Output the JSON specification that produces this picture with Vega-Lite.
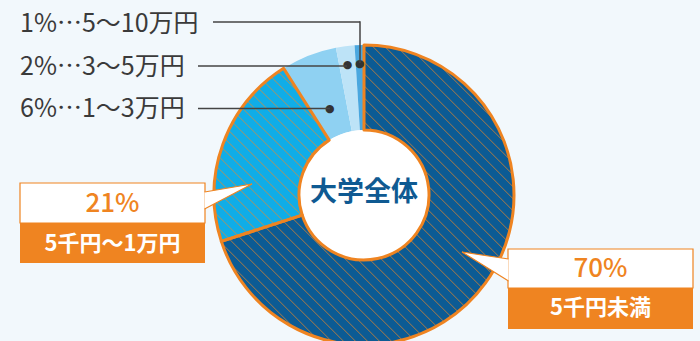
{
"$schema":"https://vega.github.io/schema/vega-lite/v6.json",
"width":700,"height":341,"autosize":{"type":"none"},"padding":0,
"background":"#f2f8fc",
"config":{"view":{"stroke":null},"text":{"font":"Noto Sans CJK JP"}},
"data":{"values":[
{"cat":"5千円未満","pct":70,"ord":1,"pctText":"70%","label":"5千円未満"},
{"cat":"5千円〜1万円","pct":21,"ord":2,"pctText":"21%","label":"5千円〜1万円"},
{"cat":"1〜3万円","pct":6,"ord":3,"pctText":"6%","label":"6%…1〜3万円"},
{"cat":"3〜5万円","pct":2,"ord":4,"pctText":"2%","label":"2%…3〜5万円"},
{"cat":"5〜10万円","pct":1,"ord":5,"pctText":"1%","label":"1%…5〜10万円"}
]},
"layer":[
{"mark":{"type":"arc","outerRadius":150,"innerRadius":65},
 "encoding":{
  "x":{"datum":364,"type":"quantitative","scale":{"domain":[0,700],"nice":false,"zero":false},"axis":null},
  "y":{"datum":195,"type":"quantitative","scale":{"domain":[0,341],"reverse":true,"nice":false,"zero":false},"axis":null},
  "theta":{"field":"pct","type":"quantitative","stack":true},
  "order":{"field":"ord","type":"quantitative"},
  "color":{"field":"cat","type":"nominal","legend":null,
   "scale":{"domain":["5千円未満","5千円〜1万円","1〜3万円","3〜5万円","5〜10万円"],
            "range":["#0c5b94","#10ade8","#8fd1f2","#bde3f7","#4aa7df"]}}}},
{"transform":[{"filter":"datum.pct >= 21"},{"aggregate":[{"op":"sum","field":"pct","as":"big"}]}],
 "mark":{"type":"arc","outerRadius":150,"innerRadius":65,
  "fill":{"gradient":"linear","x1":0,"y1":1,"x2":1,"y2":0,"stops":[
{"offset":0,"color":"#f0872300"},{"offset":0.002,"color":"#f0872399"},{"offset":0.004,"color":"#f0872300"},
{"offset":0.02,"color":"#f0872300"},{"offset":0.022,"color":"#f0872399"},{"offset":0.024,"color":"#f0872300"},
{"offset":0.04,"color":"#f0872300"},{"offset":0.042,"color":"#f0872399"},{"offset":0.044,"color":"#f0872300"},
{"offset":0.06,"color":"#f0872300"},{"offset":0.062,"color":"#f0872399"},{"offset":0.064,"color":"#f0872300"},
{"offset":0.08,"color":"#f0872300"},{"offset":0.082,"color":"#f0872399"},{"offset":0.084,"color":"#f0872300"},
{"offset":0.10,"color":"#f0872300"},{"offset":0.102,"color":"#f0872399"},{"offset":0.104,"color":"#f0872300"},
{"offset":0.12,"color":"#f0872300"},{"offset":0.122,"color":"#f0872399"},{"offset":0.124,"color":"#f0872300"},
{"offset":0.14,"color":"#f0872300"},{"offset":0.142,"color":"#f0872399"},{"offset":0.144,"color":"#f0872300"},
{"offset":0.16,"color":"#f0872300"},{"offset":0.162,"color":"#f0872399"},{"offset":0.164,"color":"#f0872300"},
{"offset":0.18,"color":"#f0872300"},{"offset":0.182,"color":"#f0872399"},{"offset":0.184,"color":"#f0872300"},
{"offset":0.20,"color":"#f0872300"},{"offset":0.202,"color":"#f0872399"},{"offset":0.204,"color":"#f0872300"},
{"offset":0.22,"color":"#f0872300"},{"offset":0.222,"color":"#f0872399"},{"offset":0.224,"color":"#f0872300"},
{"offset":0.24,"color":"#f0872300"},{"offset":0.242,"color":"#f0872399"},{"offset":0.244,"color":"#f0872300"},
{"offset":0.26,"color":"#f0872300"},{"offset":0.262,"color":"#f0872399"},{"offset":0.264,"color":"#f0872300"},
{"offset":0.28,"color":"#f0872300"},{"offset":0.282,"color":"#f0872399"},{"offset":0.284,"color":"#f0872300"},
{"offset":0.30,"color":"#f0872300"},{"offset":0.302,"color":"#f0872399"},{"offset":0.304,"color":"#f0872300"},
{"offset":0.32,"color":"#f0872300"},{"offset":0.322,"color":"#f0872399"},{"offset":0.324,"color":"#f0872300"},
{"offset":0.34,"color":"#f0872300"},{"offset":0.342,"color":"#f0872399"},{"offset":0.344,"color":"#f0872300"},
{"offset":0.36,"color":"#f0872300"},{"offset":0.362,"color":"#f0872399"},{"offset":0.364,"color":"#f0872300"},
{"offset":0.38,"color":"#f0872300"},{"offset":0.382,"color":"#f0872399"},{"offset":0.384,"color":"#f0872300"},
{"offset":0.40,"color":"#f0872300"},{"offset":0.402,"color":"#f0872399"},{"offset":0.404,"color":"#f0872300"},
{"offset":0.42,"color":"#f0872300"},{"offset":0.422,"color":"#f0872399"},{"offset":0.424,"color":"#f0872300"},
{"offset":0.44,"color":"#f0872300"},{"offset":0.442,"color":"#f0872399"},{"offset":0.444,"color":"#f0872300"},
{"offset":0.46,"color":"#f0872300"},{"offset":0.462,"color":"#f0872399"},{"offset":0.464,"color":"#f0872300"},
{"offset":0.48,"color":"#f0872300"},{"offset":0.482,"color":"#f0872399"},{"offset":0.484,"color":"#f0872300"},
{"offset":0.50,"color":"#f0872300"},{"offset":0.502,"color":"#f0872399"},{"offset":0.504,"color":"#f0872300"},
{"offset":0.52,"color":"#f0872300"},{"offset":0.522,"color":"#f0872399"},{"offset":0.524,"color":"#f0872300"},
{"offset":0.54,"color":"#f0872300"},{"offset":0.542,"color":"#f0872399"},{"offset":0.544,"color":"#f0872300"},
{"offset":0.56,"color":"#f0872300"},{"offset":0.562,"color":"#f0872399"},{"offset":0.564,"color":"#f0872300"},
{"offset":0.58,"color":"#f0872300"},{"offset":0.582,"color":"#f0872399"},{"offset":0.584,"color":"#f0872300"},
{"offset":0.60,"color":"#f0872300"},{"offset":0.602,"color":"#f0872399"},{"offset":0.604,"color":"#f0872300"},
{"offset":0.62,"color":"#f0872300"},{"offset":0.622,"color":"#f0872399"},{"offset":0.624,"color":"#f0872300"},
{"offset":0.64,"color":"#f0872300"},{"offset":0.642,"color":"#f0872399"},{"offset":0.644,"color":"#f0872300"},
{"offset":0.66,"color":"#f0872300"},{"offset":0.662,"color":"#f0872399"},{"offset":0.664,"color":"#f0872300"},
{"offset":0.68,"color":"#f0872300"},{"offset":0.682,"color":"#f0872399"},{"offset":0.684,"color":"#f0872300"},
{"offset":0.70,"color":"#f0872300"},{"offset":0.702,"color":"#f0872399"},{"offset":0.704,"color":"#f0872300"},
{"offset":0.72,"color":"#f0872300"},{"offset":0.722,"color":"#f0872399"},{"offset":0.724,"color":"#f0872300"},
{"offset":0.74,"color":"#f0872300"},{"offset":0.742,"color":"#f0872399"},{"offset":0.744,"color":"#f0872300"},
{"offset":0.76,"color":"#f0872300"},{"offset":0.762,"color":"#f0872399"},{"offset":0.764,"color":"#f0872300"},
{"offset":0.78,"color":"#f0872300"},{"offset":0.782,"color":"#f0872399"},{"offset":0.784,"color":"#f0872300"},
{"offset":0.80,"color":"#f0872300"},{"offset":0.802,"color":"#f0872399"},{"offset":0.804,"color":"#f0872300"},
{"offset":0.82,"color":"#f0872300"},{"offset":0.822,"color":"#f0872399"},{"offset":0.824,"color":"#f0872300"},
{"offset":0.84,"color":"#f0872300"},{"offset":0.842,"color":"#f0872399"},{"offset":0.844,"color":"#f0872300"},
{"offset":0.86,"color":"#f0872300"},{"offset":0.862,"color":"#f0872399"},{"offset":0.864,"color":"#f0872300"},
{"offset":0.88,"color":"#f0872300"},{"offset":0.882,"color":"#f0872399"},{"offset":0.884,"color":"#f0872300"},
{"offset":0.90,"color":"#f0872300"},{"offset":0.902,"color":"#f0872399"},{"offset":0.904,"color":"#f0872300"},
{"offset":0.92,"color":"#f0872300"},{"offset":0.922,"color":"#f0872399"},{"offset":0.924,"color":"#f0872300"},
{"offset":0.94,"color":"#f0872300"},{"offset":0.942,"color":"#f0872399"},{"offset":0.944,"color":"#f0872300"},
{"offset":0.96,"color":"#f0872300"},{"offset":0.962,"color":"#f0872399"},{"offset":0.964,"color":"#f0872300"},
{"offset":0.98,"color":"#f0872300"},{"offset":0.982,"color":"#f0872399"},{"offset":0.984,"color":"#f0872300"},
{"offset":1,"color":"#f0872300"}]}},
 "encoding":{
  "x":{"datum":364,"type":"quantitative","scale":{"domain":[0,700],"nice":false,"zero":false},"axis":null},
  "y":{"datum":195,"type":"quantitative","scale":{"domain":[0,341],"reverse":true,"nice":false,"zero":false},"axis":null},
  "theta":{"field":"big","type":"quantitative","stack":true}}},
{"data":{"values":[{"title":"大学全体"}]},
 "mark":{"type":"arc","outerRadius":65,"innerRadius":0,"theta":6.2832,"fill":"#ffffff"},
 "encoding":{
  "x":{"datum":364,"type":"quantitative","scale":{"domain":[0,700],"nice":false,"zero":false},"axis":null},
  "y":{"datum":195,"type":"quantitative","scale":{"domain":[0,341],"reverse":true,"nice":false,"zero":false},"axis":null}}},
{"mark":{"type":"arc","outerRadius":150,"innerRadius":65,"fill":"transparent","stroke":"#ef8421","strokeWidth":3,"strokeJoin":"round"},
 "encoding":{
  "x":{"datum":364,"type":"quantitative","scale":{"domain":[0,700],"nice":false,"zero":false},"axis":null},
  "y":{"datum":195,"type":"quantitative","scale":{"domain":[0,341],"reverse":true,"nice":false,"zero":false},"axis":null},
  "theta":{"field":"pct","type":"quantitative","stack":true},
  "order":{"field":"ord","type":"quantitative"},
  "detail":{"field":"cat"},
  "strokeOpacity":{"condition":{"test":"datum.pct >= 21","value":1},"value":0}}},
{"data":{"values":[{"title":"大学全体"}]},
 "mark":{"type":"text","fontSize":27,"fontWeight":"bold","fill":"#0f5a92","align":"center","baseline":"middle"},
 "encoding":{
  "x":{"datum":364,"type":"quantitative","scale":{"domain":[0,700],"nice":false,"zero":false},"axis":null},
  "y":{"datum":193,"type":"quantitative","scale":{"domain":[0,341],"reverse":true,"nice":false,"zero":false},"axis":null},
  "text":{"field":"title"}}},
{"mark":{"type":"text","radius":93,"fontSize":11,"font":"DejaVu Sans","fill":"#333333","align":"center","baseline":"middle"},
 "encoding":{
  "x":{"datum":364,"type":"quantitative","scale":{"domain":[0,700],"nice":false,"zero":false},"axis":null},
  "y":{"datum":195,"type":"quantitative","scale":{"domain":[0,341],"reverse":true,"nice":false,"zero":false},"axis":null},
  "theta":{"field":"pct","type":"quantitative","stack":true},
  "order":{"field":"ord","type":"quantitative"},
  "detail":{"field":"cat"},
  "text":{"value":"●"},
  "opacity":{"condition":{"test":"datum.pct == 6","value":1},"value":0}}},
{"mark":{"type":"text","radius":131,"fontSize":11,"font":"DejaVu Sans","fill":"#333333","align":"center","baseline":"middle"},
 "encoding":{
  "x":{"datum":364,"type":"quantitative","scale":{"domain":[0,700],"nice":false,"zero":false},"axis":null},
  "y":{"datum":195,"type":"quantitative","scale":{"domain":[0,341],"reverse":true,"nice":false,"zero":false},"axis":null},
  "theta":{"field":"pct","type":"quantitative","stack":true},
  "order":{"field":"ord","type":"quantitative"},
  "detail":{"field":"cat"},
  "text":{"value":"●"},
  "opacity":{"condition":{"test":"datum.pct <= 2","value":1},"value":0}}},
{"transform":[{"filter":"datum.pct == 1"}],
 "mark":{"type":"rule","stroke":"#444444","strokeWidth":1.5},
 "encoding":{
  "x":{"datum":213,"type":"quantitative","scale":{"domain":[0,700],"nice":false,"zero":false},"axis":null},
  "x2":{"datum":360},
  "y":{"datum":22,"type":"quantitative","scale":{"domain":[0,341],"reverse":true,"nice":false,"zero":false},"axis":null}}},
{"transform":[{"filter":"datum.pct == 1"}],
 "mark":{"type":"rule","stroke":"#444444","strokeWidth":1.5},
 "encoding":{
  "x":{"datum":360,"type":"quantitative","scale":{"domain":[0,700],"nice":false,"zero":false},"axis":null},
  "y":{"datum":21.3,"type":"quantitative","scale":{"domain":[0,341],"reverse":true,"nice":false,"zero":false},"axis":null},
  "y2":{"datum":63}}},
{"transform":[{"filter":"datum.pct == 2"}],
 "mark":{"type":"rule","stroke":"#444444","strokeWidth":1.5},
 "encoding":{
  "x":{"datum":198,"type":"quantitative","scale":{"domain":[0,700],"nice":false,"zero":false},"axis":null},
  "x2":{"datum":347},
  "y":{"datum":66,"type":"quantitative","scale":{"domain":[0,341],"reverse":true,"nice":false,"zero":false},"axis":null}}},
{"transform":[{"filter":"datum.pct == 6"}],
 "mark":{"type":"rule","stroke":"#444444","strokeWidth":1.5},
 "encoding":{
  "x":{"datum":198,"type":"quantitative","scale":{"domain":[0,700],"nice":false,"zero":false},"axis":null},
  "x2":{"datum":330},
  "y":{"datum":108.5,"type":"quantitative","scale":{"domain":[0,341],"reverse":true,"nice":false,"zero":false},"axis":null}}},
{"transform":[{"filter":"datum.pct == 1"}],
 "mark":{"type":"text","fontSize":25,"fill":"#3a3a3a","align":"left","baseline":"middle"},
 "encoding":{
  "x":{"datum":20,"type":"quantitative","scale":{"domain":[0,700],"nice":false,"zero":false},"axis":null},
  "y":{"datum":24,"type":"quantitative","scale":{"domain":[0,341],"reverse":true,"nice":false,"zero":false},"axis":null},
  "text":{"field":"label"}}},
{"transform":[{"filter":"datum.pct == 2"}],
 "mark":{"type":"text","fontSize":25,"fill":"#3a3a3a","align":"left","baseline":"middle"},
 "encoding":{
  "x":{"datum":20,"type":"quantitative","scale":{"domain":[0,700],"nice":false,"zero":false},"axis":null},
  "y":{"datum":67,"type":"quantitative","scale":{"domain":[0,341],"reverse":true,"nice":false,"zero":false},"axis":null},
  "text":{"field":"label"}}},
{"transform":[{"filter":"datum.pct == 6"}],
 "mark":{"type":"text","fontSize":25,"fill":"#3a3a3a","align":"left","baseline":"middle"},
 "encoding":{
  "x":{"datum":20,"type":"quantitative","scale":{"domain":[0,700],"nice":false,"zero":false},"axis":null},
  "y":{"datum":109,"type":"quantitative","scale":{"domain":[0,341],"reverse":true,"nice":false,"zero":false},"axis":null},
  "text":{"field":"label"}}},
{"transform":[{"filter":"datum.pct == 21"}],
 "mark":{"type":"rect","fill":"#ffffff","stroke":"#ef8421","strokeWidth":1.2},
 "encoding":{
  "x":{"datum":20,"type":"quantitative","scale":{"domain":[0,700],"nice":false,"zero":false},"axis":null},
  "x2":{"datum":205},
  "y":{"datum":183,"type":"quantitative","scale":{"domain":[0,341],"reverse":true,"nice":false,"zero":false},"axis":null},
  "y2":{"datum":223}}},
{"transform":[{"filter":"datum.pct == 21"}],
 "mark":{"type":"rect","fill":"#ef8421"},
 "encoding":{
  "x":{"datum":20,"type":"quantitative","scale":{"domain":[0,700],"nice":false,"zero":false},"axis":null},
  "x2":{"datum":205},
  "y":{"datum":223,"type":"quantitative","scale":{"domain":[0,341],"reverse":true,"nice":false,"zero":false},"axis":null},
  "y2":{"datum":263}}},
{"transform":[{"filter":"datum.pct == 70"}],
 "mark":{"type":"rect","fill":"#ffffff","stroke":"#ef8421","strokeWidth":1.2},
 "encoding":{
  "x":{"datum":508,"type":"quantitative","scale":{"domain":[0,700],"nice":false,"zero":false},"axis":null},
  "x2":{"datum":693},
  "y":{"datum":249,"type":"quantitative","scale":{"domain":[0,341],"reverse":true,"nice":false,"zero":false},"axis":null},
  "y2":{"datum":288}}},
{"transform":[{"filter":"datum.pct == 70"}],
 "mark":{"type":"rect","fill":"#ef8421"},
 "encoding":{
  "x":{"datum":508,"type":"quantitative","scale":{"domain":[0,700],"nice":false,"zero":false},"axis":null},
  "x2":{"datum":693},
  "y":{"datum":288,"type":"quantitative","scale":{"domain":[0,341],"reverse":true,"nice":false,"zero":false},"axis":null},
  "y2":{"datum":329}}},
{"transform":[{"filter":"datum.pct == 21"}],
 "mark":{"type":"point","shape":"M -0.94 -0.16 L 0.96 -0.48 L -0.94 0.52","size":2500,"filled":true,"fill":"#ffffff","stroke":"#ef8421","strokeWidth":1.2,"opacity":1},
 "encoding":{
  "x":{"datum":228,"type":"quantitative","scale":{"domain":[0,700],"nice":false,"zero":false},"axis":null},
  "y":{"datum":196,"type":"quantitative","scale":{"domain":[0,341],"reverse":true,"nice":false,"zero":false},"axis":null}}},
{"transform":[{"filter":"datum.pct == 70"}],
 "mark":{"type":"point","shape":"M 0.94 -0.32 L -0.92 -0.6 L 0.94 0.56","size":2500,"filled":true,"fill":"#ffffff","stroke":"#ef8421","strokeWidth":1.2,"opacity":1},
 "encoding":{
  "x":{"datum":485,"type":"quantitative","scale":{"domain":[0,700],"nice":false,"zero":false},"axis":null},
  "y":{"datum":267,"type":"quantitative","scale":{"domain":[0,341],"reverse":true,"nice":false,"zero":false},"axis":null}}},
{"transform":[{"filter":"datum.pct == 21"}],
 "mark":{"type":"text","fontSize":26,"fontWeight":500,"fill":"#ef8421","align":"center","baseline":"middle"},
 "encoding":{
  "x":{"datum":112.5,"type":"quantitative","scale":{"domain":[0,700],"nice":false,"zero":false},"axis":null},
  "y":{"datum":204,"type":"quantitative","scale":{"domain":[0,341],"reverse":true,"nice":false,"zero":false},"axis":null},
  "text":{"field":"pctText"}}},
{"transform":[{"filter":"datum.pct == 21"}],
 "mark":{"type":"text","fontSize":22,"fontWeight":"bold","fill":"#ffffff","align":"center","baseline":"middle"},
 "encoding":{
  "x":{"datum":112.5,"type":"quantitative","scale":{"domain":[0,700],"nice":false,"zero":false},"axis":null},
  "y":{"datum":244,"type":"quantitative","scale":{"domain":[0,341],"reverse":true,"nice":false,"zero":false},"axis":null},
  "text":{"field":"label"}}},
{"transform":[{"filter":"datum.pct == 70"}],
 "mark":{"type":"text","fontSize":26,"fontWeight":500,"fill":"#ef8421","align":"center","baseline":"middle"},
 "encoding":{
  "x":{"datum":600.5,"type":"quantitative","scale":{"domain":[0,700],"nice":false,"zero":false},"axis":null},
  "y":{"datum":269,"type":"quantitative","scale":{"domain":[0,341],"reverse":true,"nice":false,"zero":false},"axis":null},
  "text":{"field":"pctText"}}},
{"transform":[{"filter":"datum.pct == 70"}],
 "mark":{"type":"text","fontSize":22,"fontWeight":"bold","fill":"#ffffff","align":"center","baseline":"middle"},
 "encoding":{
  "x":{"datum":600.5,"type":"quantitative","scale":{"domain":[0,700],"nice":false,"zero":false},"axis":null},
  "y":{"datum":308,"type":"quantitative","scale":{"domain":[0,341],"reverse":true,"nice":false,"zero":false},"axis":null},
  "text":{"field":"label"}}}
]
}
